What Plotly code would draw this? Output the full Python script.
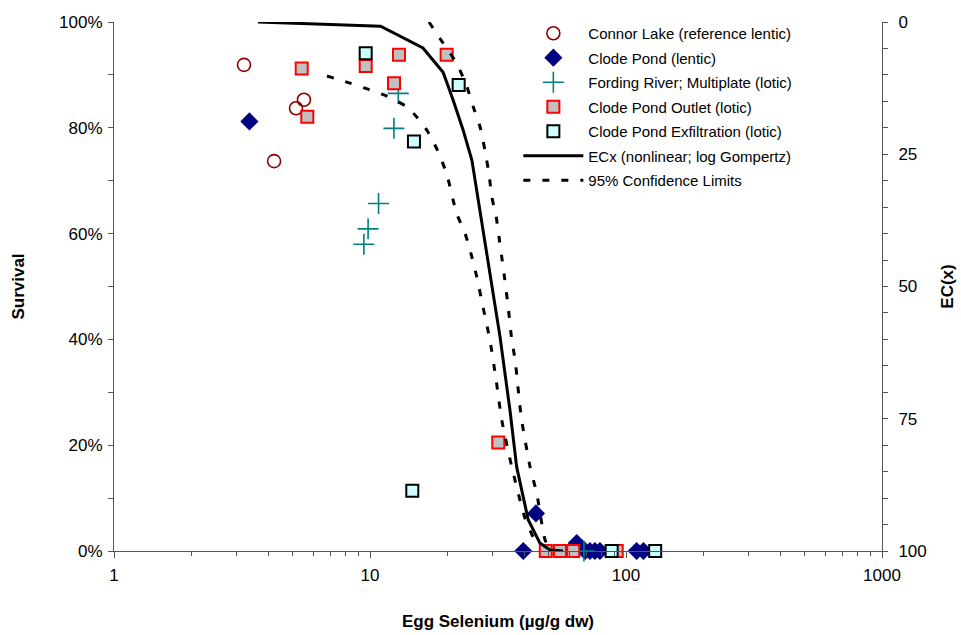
import plotly.graph_objects as go

# ---- data (egg Se in ug/g dw, survival as fraction) ----
connor_x = [3.22, 4.22, 5.14, 5.52]
connor_y = [0.919, 0.737, 0.837, 0.853]

clode_x = [3.38, 44.5, 39.7, 64.2, 69.2, 72.3, 75.6, 79.1, 110, 117]
clode_y = [0.812, 0.071, 0.0, 0.015, 0.0, 0.0, 0.0, 0.0, 0.0, 0.0]

fording_x = [12.9, 12.4, 10.8, 9.83, 9.46, 68.5]
fording_y = [0.865, 0.799, 0.657, 0.609, 0.580, 0.0]

outlet_x = [5.41, 5.69, 9.62, 12.98, 12.41, 19.93, 31.7, 48.6, 55.2, 62.2, 92.0]
outlet_y = [0.912, 0.821, 0.917, 0.938, 0.884, 0.938, 0.205, 0.0, 0.0, 0.0, 0.0]

exfil_x = [9.62, 22.2, 14.85, 14.63, 87.9, 130.0]
exfil_y = [0.941, 0.881, 0.774, 0.114, 0.0, 0.0]

ecx_x = [3.65, 11.0, 16.1, 19.3, 21.1, 23.1, 25.0, 26.1, 27.3, 28.7, 29.7, 32.2,
         35.2, 37.4, 41.5, 46.1, 50.5, 56.7]
ecx_y = [1.000, 0.992, 0.951, 0.905, 0.853, 0.796, 0.739, 0.682, 0.620, 0.556,
         0.512, 0.405, 0.267, 0.159, 0.059, 0.015, 0.002, 0.0]

lcl_x = [6.79, 8.28, 9.82, 11.65, 13.9, 15.2, 16.65, 18.2, 19.9, 21.8, 23.5, 25.0,
         26.1, 27.7, 29.4, 31.1, 32.7, 35.8, 40.3, 43.3, 45.3]
lcl_y = [0.898, 0.885, 0.873, 0.860, 0.840, 0.821, 0.796, 0.761, 0.714, 0.638, 0.601,
         0.556, 0.519, 0.459, 0.399, 0.323, 0.248, 0.159, 0.062, 0.027, 0.008]

ucl_x = [17.0, 19.3, 21.8, 23.9, 25.3, 26.9, 28.1, 29.2, 29.9, 31.1, 31.9, 32.7, 33.5,
         34.7, 35.8, 36.9, 37.6, 38.3, 39.1, 42.2, 44.8, 48.3, 50.5]
ucl_y = [1.000, 0.960, 0.922, 0.878, 0.840, 0.802, 0.758, 0.711, 0.670, 0.632, 0.594,
         0.556, 0.519, 0.459, 0.399, 0.361, 0.323, 0.285, 0.248, 0.159, 0.109, 0.021,
         0.004]

x_ticks = [1, 10, 100, 1000]
x_minor = [m * d for d in (1, 10, 100) for m in range(2, 10)]
y_ticks = [0, 0.2, 0.4, 0.6, 0.8, 1.0]
ec_ticks = [0, 25, 50, 75, 100]

FONT = "Arial, Liberation Sans, sans-serif"

fig = go.Figure()

def add_group(name, trace):
    trace.update(name=name, legendgroup=name, cliponaxis=False)
    fig.add_trace(trace)

add_group("Connor Lake (reference lentic)", go.Scatter(
    x=connor_x, y=connor_y, mode="markers",
    marker=dict(symbol="circle-open", size=13, color="#8B0000", line=dict(width=1.6, color="#8B0000"))))
add_group("Clode Pond (lentic)", go.Scatter(
    x=clode_x, y=clode_y, mode="markers",
    marker=dict(symbol="diamond", size=14, color="#000080", line=dict(width=0))))
add_group("Fording River; Multiplate (lotic)", go.Scatter(
    x=fording_x, y=fording_y, mode="markers",
    marker=dict(symbol="cross-thin-open", size=15, color="#008080", line=dict(width=1.6, color="#008080"))))
add_group("Clode Pond Outlet (lotic)", go.Scatter(
    x=outlet_x, y=outlet_y, mode="markers",
    marker=dict(symbol="square", size=12, color="#C0C0C0", line=dict(width=2, color="#FF0000"))))
add_group("Clode Pond Exfiltration (lotic)", go.Scatter(
    x=exfil_x, y=exfil_y, mode="markers",
    marker=dict(symbol="square", size=12, color="#CCFFFF", line=dict(width=2, color="#000000"))))
add_group("ECx (nonlinear; log Gompertz)", go.Scatter(
    x=ecx_x, y=ecx_y, mode="lines", line=dict(color="black", width=3)))
add_group("95% Confidence Limits", go.Scatter(
    x=lcl_x, y=lcl_y, mode="lines",
    line=dict(color="black", width=3, dash="7px,12px", shape="spline", smoothing=0.6)))
fig.add_trace(go.Scatter(
    x=ucl_x, y=ucl_y, mode="lines",
    line=dict(color="black", width=3, dash="7px,12px", shape="spline", smoothing=0.6),
    name="95% Confidence Limits", legendgroup="95% Confidence Limits", showlegend=False,
    cliponaxis=False))
# right axis (EC(x)) anchor trace, invisible
fig.add_trace(go.Scatter(x=[1, 1000], y=[0, 100], yaxis="y2", mode="markers",
                         marker=dict(opacity=0), showlegend=False, hoverinfo="skip"))

fig.update_layout(
    width=961, height=635,
    margin=dict(l=114, r=79, t=22, b=84),
    paper_bgcolor="white", plot_bgcolor="white",
    font=dict(family=FONT, size=16, color="black"),
    showlegend=True,
    legend=dict(x=0.5265, y=1.0095, xanchor="left", yanchor="top",
                font=dict(family=FONT, size=15, color="black"),
                bgcolor="rgba(0,0,0,0)", tracegroupgap=2, itemwidth=60,
                traceorder="grouped"),
    xaxis=dict(type="log", range=[0, 3], tickvals=x_ticks, ticktext=[str(v) for v in x_ticks],
               ticks="outside", ticklen=6, tickcolor="#555", showline=True, linecolor="#555",
               linewidth=1, showgrid=False, zeroline=False, automargin=False,
               tickfont=dict(size=17), ticklabelstandoff=3,
               minor=dict(tickvals=x_minor, ticks="outside", ticklen=4, tickcolor="#555", showgrid=False),
               title=dict(text="<b>Egg Selenium (µg/g dw)</b>", font=dict(size=17), standoff=30)),
    yaxis=dict(range=[0, 1], tickvals=y_ticks, tickformat=".0%",
               ticks="outside", ticklen=5, tickcolor="#555", showline=True, linecolor="#555",
               linewidth=1, showgrid=False, zeroline=False, tickfont=dict(size=17),
               ticklabelstandoff=2, automargin=False,
               minor=dict(dtick=0.1, ticks="outside", ticklen=5, tickcolor="#555", showgrid=False),
               title=dict(text="<b>Survival</b>", font=dict(size=17), standoff=30)),
    yaxis2=dict(overlaying="y", side="right", anchor="x", range=[100, 0], tickvals=ec_ticks,
                ticks="outside", ticklen=5, tickcolor="#555", showline=True, linecolor="#555",
                linewidth=1, showgrid=False, zeroline=False, tickfont=dict(size=17),
                ticklabelstandoff=7, automargin=False,
                minor=dict(dtick=5, ticks="outside", ticklen=5, tickcolor="#555", showgrid=False),
                title=dict(text="<b>EC(x)</b>", font=dict(size=17), standoff=15)),
)

fig.write_html("out.html", config={"displayModeBar": False},
               post_script="document.body.style.margin='0';")
